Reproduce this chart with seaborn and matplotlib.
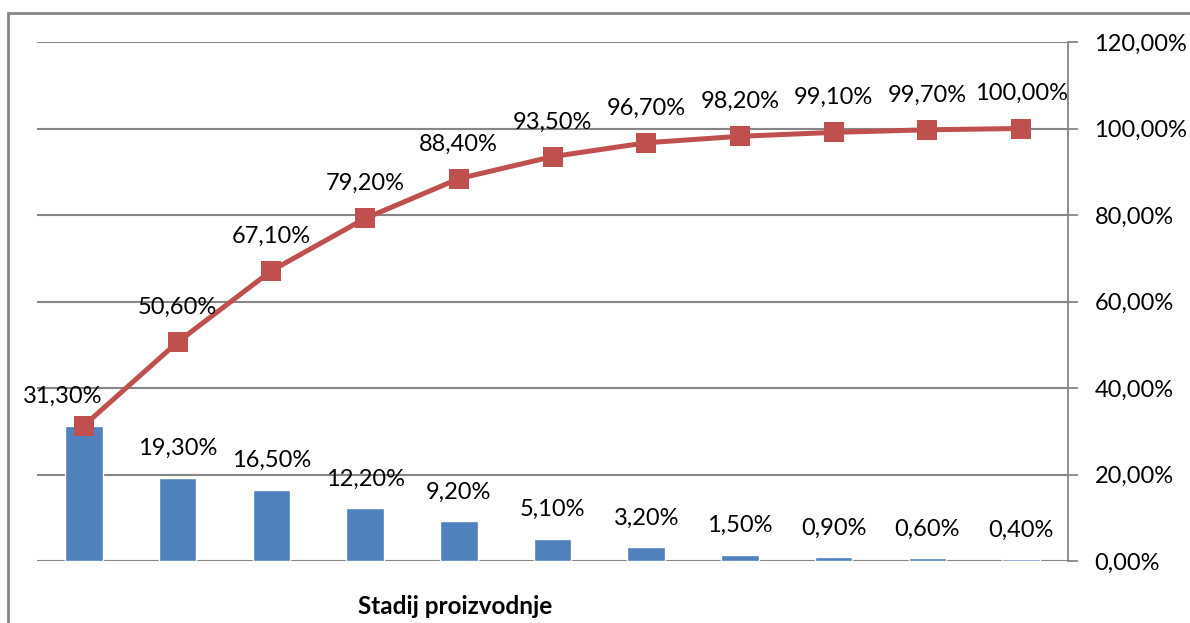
import numpy as np
import pandas as pd
import matplotlib
matplotlib.use("Agg")
import matplotlib.pyplot as plt
from matplotlib.patches import Rectangle
import seaborn as sns

# Pareto data: share of each production stage and the cumulative share (%)
stages = [str(i) for i in range(1, 12)]
share = [31.3, 19.3, 16.5, 12.2, 9.2, 5.1, 3.2, 1.5, 0.9, 0.6, 0.4]
cumulative = [31.3, 50.6, 67.1, 79.2, 88.4, 93.5, 96.7, 98.2, 99.1, 99.7, 100.0]
y_ticks = [0, 20, 40, 60, 80, 100, 120]
x_title = "Stadij proizvodnje"

BAR = "#4F81BD"
LINE = "#C0504D"
GRID = "#868686"
FONT = "Lato"
LABEL_SIZE = 17


def pct(v):
    return f"{v:.2f}%".replace(".", ",")


sns.set_theme(style="white")
plt.rcParams["font.family"] = [FONT, "DejaVu Sans"]

fig = plt.figure(figsize=(11.9, 6.23), dpi=100)
ax = fig.add_axes([37 / 1190, 1 - 561 / 623, (1068 - 37) / 1190, (561 - 42) / 623])

df = pd.DataFrame({"stage": stages, "share": share, "cum": cumulative,
                   "pos": np.arange(len(stages))})

sns.barplot(data=df, x="stage", y="share", color=BAR, saturation=1,
            width=0.4, ax=ax, zorder=3)
sns.lineplot(data=df, x="pos", y="cum", color=LINE, linewidth=3.6,
             marker="s", markersize=14, markeredgewidth=0, ax=ax, zorder=4)

ax.set_xlim(-0.5, len(stages) - 0.5)
ax.set_ylim(0, 120)
ax.set_yticks(y_ticks)
ax.set_yticklabels([pct(v) for v in y_ticks], fontsize=LABEL_SIZE, color="black")
ax.yaxis.tick_right()
ax.yaxis.set_label_position("right")
ax.tick_params(axis="y", which="major", direction="out", length=7, width=1.3,
               color=GRID, pad=12, right=True, left=False)
ax.set_xticks([])
ax.set_xlabel("")
ax.set_ylabel("")
ax.grid(axis="y", color=GRID, linewidth=1.5, zorder=0)
ax.set_axisbelow(True)

for side in ["left", "top", "bottom"]:
    ax.spines[side].set_visible(False)
ax.spines["right"].set_color(GRID)
ax.spines["right"].set_linewidth(1.3)

# value labels on the bars
for x, v in zip(df["pos"], share):
    dx = -15 if x == 0 else 0
    ax.annotate(pct(v), (x, v), xytext=(dx, 21), textcoords="offset points",
                ha="center", va="center", fontsize=LABEL_SIZE, color="black", zorder=5)

# value labels on the cumulative curve (the first one coincides with the bar label)
for x, v in zip(df["pos"][1:], cumulative[1:]):
    ax.annotate(pct(v), (x, v), xytext=(0, 25), textcoords="offset points",
                ha="center", va="center", fontsize=LABEL_SIZE, color="black", zorder=5)

fig.text(455 / 1190, 1 - 607 / 623, x_title, ha="center", va="center",
         fontsize=17.5, fontweight="bold", color="black")

# chart frame
fig.patches.append(Rectangle((8 / 1190, -0.1), 1.2, 1 - 13 / 623 + 0.1,
                             transform=fig.transFigure, fill=False,
                             edgecolor=GRID, linewidth=2, zorder=0))

fig.savefig("out.png", dpi=100)
